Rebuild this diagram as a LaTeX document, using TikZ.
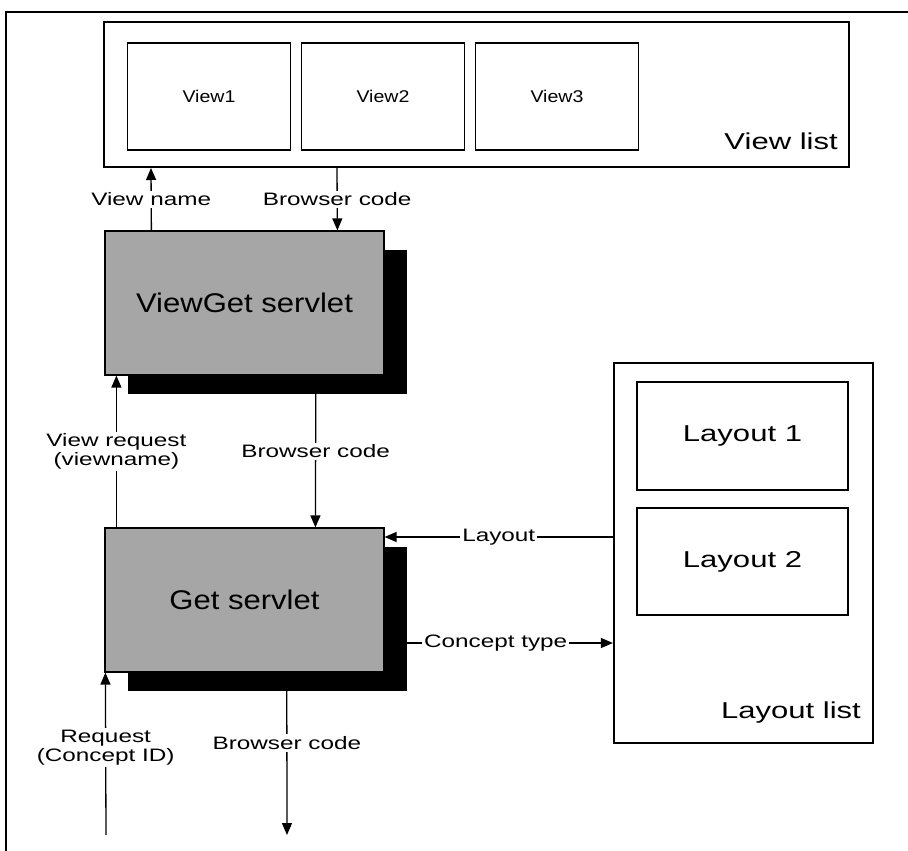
\documentclass[tikz,border=0pt]{standalone}
\usepackage{fontspec}
\setmainfont{Liberation Sans}[FakeStretch=1.35]
\newfontfamily\servletfont{Liberation Sans}[FakeStretch=1.15]
\usetikzlibrary{arrows.meta,positioning}

\begin{document}
\begin{tikzpicture}[x=1pt, y=-1pt,
    box/.style={draw, line width=1.6pt, fill=white, inner sep=0pt},
    servlet/.style={draw, line width=1.2pt, fill=black!35, inner sep=0pt,
        minimum width=279pt, minimum height=144pt,
        font=\servletfont\fontsize{27}{30}\selectfont},
    shade/.style={fill=black, inner sep=0pt, minimum width=279pt, minimum height=144pt},
    arr/.style={line width=1.3pt, -{Triangle[length=12pt,width=10pt]}},
    lbl/.style={fill=white, inner sep=2pt, align=center, font=\fontsize{18}{19}\selectfont},
    big/.style={font=\fontsize{23}{27}\selectfont, inner sep=0pt}]

    \useasboundingbox (0,0) rectangle (908,851);

    % Frame
    \draw[line width=1.5pt] (6,851) -- (6,12) -- (908,12);

    % View list
    \node[box, line width=2pt, minimum width=745pt, minimum height=145pt] (viewlist) at (476.5,94.5) {};
    \node[big, anchor=base east] (viewlisttxt) at ([xshift=-12pt, yshift=19pt]viewlist.south east) {View list};
    \foreach \i/\x in {1/209, 2/383, 3/557}
        \node[box, minimum width=163pt, minimum height=107pt,
            font=\servletfont\fontsize{17}{20}\selectfont] (view\i) at (\x,96.5) {View\i};

    % ViewGet servlet and shadow
    \node[shade] (vgshadow) at (267.5,322) {};
    \node[servlet] (viewget) at (244.5,303) {ViewGet servlet};

    % Get servlet and shadow
    \node[shade] (getshadow) at (267.5,619) {};
    \node[servlet] (get) at (244.5,600) {Get servlet};

    % Layout list
    \node[box, line width=2.2pt, minimum width=259pt, minimum height=380pt] (layoutlist) at (743.5,553) {};
    \node[big, anchor=base east] (layoutlisttxt) at ([xshift=-13pt, yshift=26pt]layoutlist.south east) {Layout list};
    \node[box, big, minimum width=211pt, minimum height=108pt] (layout1) at (742.5,436) {Layout 1};
    \node[box, big, minimum width=211pt, minimum height=107pt] (layout2) at (742.5,561.5) {Layout 2};

    % Between view list and ViewGet
    \draw[arr] ([xshift=47pt]viewget.north west) -- node[lbl] {View name} ([xshift=48pt]viewlist.south west);
    \draw[arr] ([xshift=234pt]viewlist.south west) -- node[lbl] {Browser code} ([xshift=233pt]viewget.north west);

    % Between ViewGet and Get
    \draw[arr] ([xshift=12pt]get.north west) -- node[lbl] {View request\\(viewname)} ([xshift=12pt]viewget.south west);
    \draw[arr] ([xshift=188pt]vgshadow.south west) -- node[lbl, pos=0.43] {Browser code} ([xshift=211pt]get.north west);

    % Between Get and layout list
    \draw[arr] ([yshift=16pt]layoutlist.west) -- node[lbl] {Layout} ([yshift=16pt]layoutlist.west -| get.east);
    \draw[arr] ([yshift=-24pt]getshadow.east) -- node[lbl, pos=0.43] {Concept type} ([yshift=-24pt]getshadow.east -| layoutlist.west);

    % In and out
    \coordinate (reqin) at (106,835);
    \coordinate (codeout) at (287,835);
    \draw[arr] (reqin) -- node[lbl, pos=0.54] {Request\\(Concept ID)} ([xshift=1pt]get.south west);
    \draw[arr] ([xshift=159pt]getshadow.south west) -- node[lbl, pos=0.36] {Browser code} (codeout);

\end{tikzpicture}
\end{document}
